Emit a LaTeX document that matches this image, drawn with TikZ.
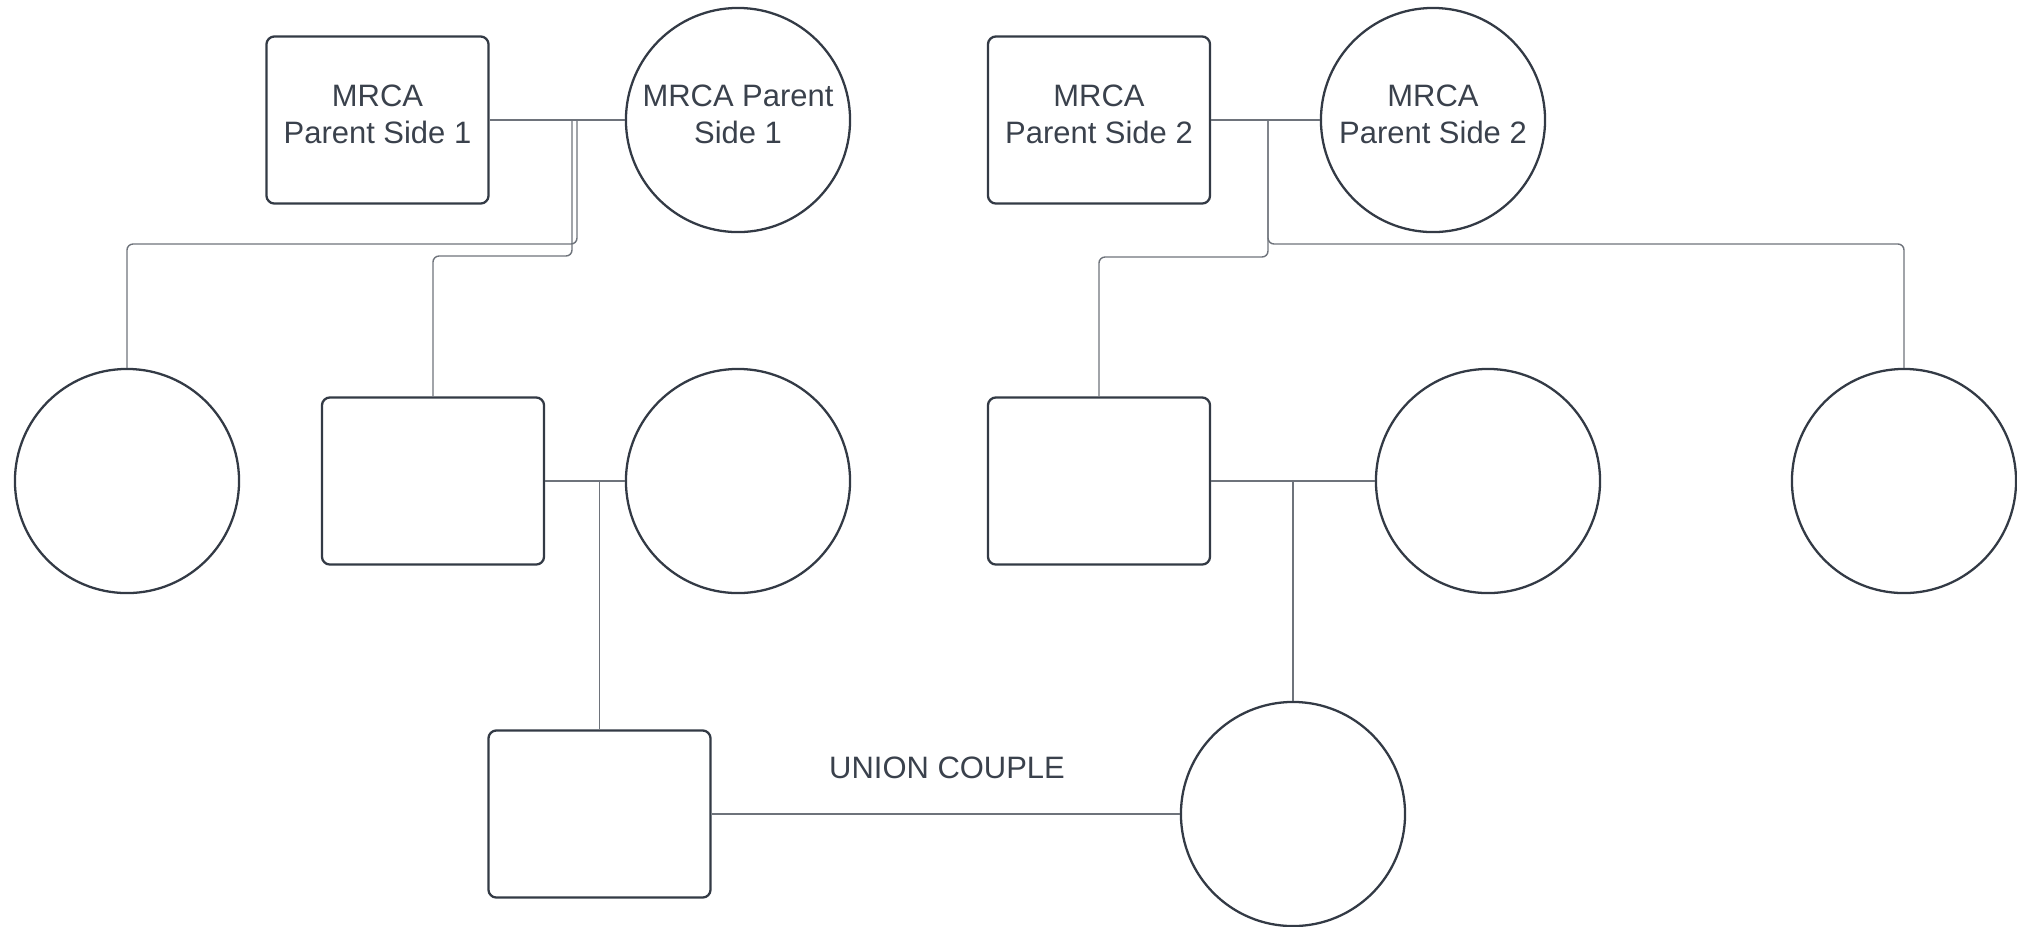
\documentclass[tikz,border=0pt]{standalone}
\usepackage{fontspec}
\setmainfont{Liberation Sans}
\definecolor{ink}{HTML}{333A45}
\definecolor{wire}{HTML}{6E737B}
\definecolor{txt}{HTML}{3A414C}
\tikzset{
    kin/.style={draw=ink,line width=0.65pt,align=center,text=txt,text depth=0.12cm,font=\fontsize{8.8}{10.5}\selectfont},
    male/.style={kin,rounded corners=0.08cm,minimum width=2.22cm,minimum height=1.67cm},
    female/.style={kin,circle,minimum size=2.24cm,inner sep=0pt},
    link/.style={draw=wire,line width=0.4pt,rounded corners=0.06cm}
}

\begin{document}
\begin{tikzpicture}[x=0.01cm,y=-0.01cm]
        \useasboundingbox (0,0) rectangle (2017,926);
        % oldest couples
        \node[male] (f1) at (377.5,120) {MRCA\\Parent Side 1};
        \node[female] (m1) at (738,120) {MRCA Parent\\Side 1};
        \node[male] (f2) at (1099,120) {MRCA\\Parent Side 2};
        \node[female] (m2) at (1433,120) {MRCA\\Parent Side 2};
        % their children
        \node[female] (d1) at (127,481) {};
        \node[male] (s1) at (433,481) {};
        \node[female] (w1) at (738,481) {};
        \node[male] (s2) at (1099,481) {};
        \node[female] (w2) at (1488,481) {};
        \node[female] (d2) at (1904,481) {};
        % grandchildren
        \node[male] (gs) at (599.5,814) {};
        \node[female] (gd) at (1293,814) {};
        \node[text=txt,font=\fontsize{8.8}{10.5}\selectfont] (uc) at (947,768) {UNION COUPLE};
        % marriages
        \draw[link] (f1) -- (m1);
        \draw[link] (f2) -- (m2);
        \draw[link] (s1) -- (w1);
        \draw[link] (s2) -- (w2);
        \draw[link] (gs) -- (gd);
        % descent lines
        \coordinate (c1) at (572,120);
        \coordinate (c1b) at (577,120);
        \coordinate (c2) at (1268,120);
        \draw[link] (c1b) -- ++(0,124) -| (d1.north);
        \draw[link] (c1) -- ++(0,136) -| (s1.north);
        \draw[link] (c2) -- ++(0,137) -| (s2.north);
        \draw[link] (c2) -- ++(0,124) -| (d2.north);
        \draw[link] (s1.east -| gs.north) -- (gs.north);
        \draw[link] (s2.east -| gd.north) -- (gd.north);
    \end{tikzpicture}
\end{document}
